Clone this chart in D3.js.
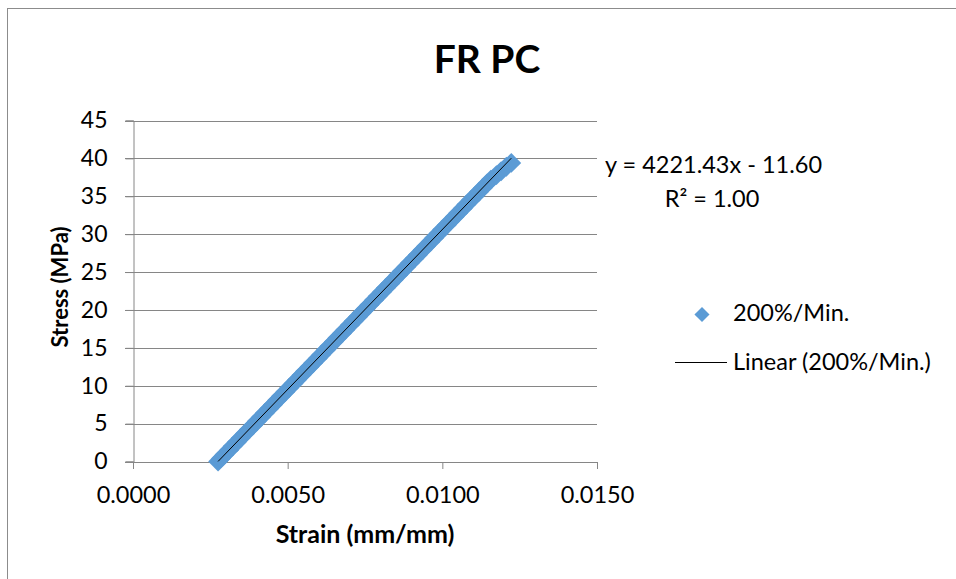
<!DOCTYPE html>
<html>
<head>
<meta charset="utf-8">
<script src="https://cdn.jsdelivr.net/npm/d3@7"></script>
<style>
  html, body { margin: 0; padding: 0; background: #fff; }
  svg { display: block; }
  text { font-family: Lato, "Open Sans", "Liberation Sans", sans-serif; fill: #000; }
</style>
</head>
<body>
<svg id="chart" width="956" height="579"></svg>
<script>
// Measured tensile data: strain (mm/mm) and stress (MPa)
const strain = [
  0.002750, 0.002845, 0.002960, 0.003105, 0.003220, 0.003366, 0.003480, 0.003626,
  0.003742, 0.003887, 0.004003, 0.004148, 0.004262, 0.004408, 0.004523, 0.004668,
  0.004783, 0.004929, 0.005044, 0.005190, 0.005304, 0.005451, 0.005565, 0.005711,
  0.005826, 0.005972, 0.006086, 0.006232, 0.006347, 0.006493, 0.006607, 0.006753,
  0.006868, 0.007014, 0.007128, 0.007274, 0.007389, 0.007535, 0.007649, 0.007796,
  0.007910, 0.008056, 0.008171, 0.008317, 0.008431, 0.008577, 0.008692, 0.008838,
  0.008952, 0.009099, 0.009213, 0.009359, 0.009474, 0.009620, 0.009734, 0.009880,
  0.009995, 0.010141, 0.010255, 0.010401, 0.010516, 0.010662, 0.010776, 0.010923,
  0.011040, 0.011186, 0.011305, 0.011450, 0.011570, 0.011750, 0.011900, 0.012070,
  0.012230
];
const stress = [
  0.0, 0.4, 0.9, 1.5, 2.0, 2.6, 3.1, 3.7,
  4.2, 4.8, 5.3, 5.9, 6.4, 7.0, 7.5, 8.1,
  8.6, 9.2, 9.7, 10.3, 10.8, 11.4, 11.9, 12.5,
  13.0, 13.6, 14.1, 14.7, 15.2, 15.8, 16.3, 16.9,
  17.4, 18.0, 18.5, 19.1, 19.6, 20.2, 20.7, 21.3,
  21.8, 22.4, 22.9, 23.5, 24.0, 24.6, 25.1, 25.7,
  26.2, 26.8, 27.3, 27.9, 28.4, 29.0, 29.5, 30.1,
  30.6, 31.2, 31.7, 32.3, 32.8, 33.4, 33.9, 34.5,
  35.0, 35.6, 36.1, 36.7, 37.2, 37.8, 38.3, 38.9,
  39.4
];

// Linear trendline coefficients (as shown in the equation label)
const slope = 4221.43;
const intercept = -11.60;
const rSquared = 1.00;

const xTicks = [0.0000, 0.0050, 0.0100, 0.0150];
const yTicks = [0, 5, 10, 15, 20, 25, 30, 35, 40, 45];

const title = "FR PC";
const xTitle = "Strain (mm/mm)";
const yTitle = "Stress (MPa)";
const seriesName = "200%/Min.";
const trendName = "Linear (200%/Min.)";

const blue = "#5B9BD5";
const gridColor = "#868686";

const svg = d3.select("#chart");

// Chart area frame
svg.append("rect")
  .attr("x", 7.5).attr("y", 8.5)
  .attr("width", 1000).attr("height", 700)
  .attr("fill", "#fff").attr("stroke", "#8c8c8c").attr("stroke-width", 1);

const plot = { left: 133, right: 597, top: 120.5, bottom: 461.5 };

const x = d3.scaleLinear().domain([0, 0.015]).range([plot.left, plot.right]);
const y = d3.scaleLinear().domain([0, 45]).range([plot.bottom, plot.top]);

// Horizontal gridlines
svg.append("g")
  .selectAll("line")
  .data(yTicks)
  .join("line")
  .attr("x1", plot.left - 8).attr("x2", plot.right)
  .attr("y1", d => Math.round(y(d)) + 0.5).attr("y2", d => Math.round(y(d)) + 0.5)
  .attr("stroke", gridColor).attr("stroke-width", 1);

// Y axis
const yAxis = d3.axisLeft(y).tickValues(yTicks).tickSize(8).tickPadding(18)
  .tickFormat(d3.format("d"));
const gy = svg.append("g").attr("transform", `translate(${plot.left + 0.5},0)`).call(yAxis);
gy.select(".domain").attr("stroke", gridColor);
gy.selectAll(".tick line").attr("stroke", gridColor);
gy.selectAll(".tick text").style("font-size", "23px").attr("fill", "#000");

// X axis
const xAxis = d3.axisBottom(x).tickValues(xTicks).tickSize(7)
  .tickFormat(d3.format(".4f"));
const gx = svg.append("g").attr("transform", `translate(0,${plot.bottom + 0.5})`).call(xAxis);
gx.select(".domain").attr("stroke", gridColor);
gx.selectAll(".tick line").attr("stroke", gridColor);
gx.selectAll(".tick text").style("font-size", "23.5px").attr("fill", "#000")
  .attr("y", 41).attr("dy", 0);

// Data points as diamonds
const data = strain.map((s, i) => ({ x: s, y: stress[i] }));
const diamond = d3.symbol().type(d3.symbolDiamond2).size(250);
svg.append("g")
  .selectAll("path")
  .data(data)
  .join("path")
  .attr("d", diamond)
  .attr("transform", d => `translate(${x(d.x)},${y(d.y)})`)
  .attr("fill", blue);

// Trendline over the data range
const xr = d3.extent(strain);
svg.append("line")
  .attr("x1", x(xr[0])).attr("y1", y(slope * xr[0] + intercept))
  .attr("x2", x(xr[1])).attr("y2", y(slope * xr[1] + intercept))
  .attr("stroke", "#000").attr("stroke-width", 1);

// Title
svg.append("text")
  .attr("x", 487).attr("y", 73)
  .attr("text-anchor", "middle")
  .style("font-size", "39px").style("font-weight", "bold")
  .text(title);

// Axis titles
svg.append("text")
  .attr("x", 365).attr("y", 543)
  .attr("text-anchor", "middle")
  .style("font-size", "25px").style("font-weight", "bold")
  .text(xTitle);

svg.append("text")
  .attr("transform", "translate(68,287) rotate(-90)")
  .attr("text-anchor", "middle")
  .style("font-size", "22px").style("font-weight", "bold")
  .text(yTitle);

// Trendline equation
svg.append("text")
  .attr("x", 713.5).attr("y", 173)
  .attr("text-anchor", "middle")
  .style("font-size", "23.5px")
  .text(`y = ${slope.toFixed(2)}x - ${Math.abs(intercept).toFixed(2)}`);
svg.append("text")
  .attr("x", 712).attr("y", 206.5)
  .attr("text-anchor", "middle")
  .style("font-size", "23.5px")
  .text(`R² = ${rSquared.toFixed(2)}`);

// Legend
const legend = svg.append("g");
legend.append("path")
  .attr("d", d3.symbol().type(d3.symbolDiamond2).size(145))
  .attr("transform", "translate(702,314.5)")
  .attr("fill", blue);
legend.append("text")
  .attr("x", 733).attr("y", 321)
  .style("font-size", "23.5px")
  .text(seriesName);
legend.append("line")
  .attr("x1", 675).attr("x2", 727)
  .attr("y1", 362.5).attr("y2", 362.5)
  .attr("stroke", "#000").attr("stroke-width", 1);
legend.append("text")
  .attr("x", 733).attr("y", 370)
  .style("font-size", "23.5px")
  .text(trendName);
</script>
</body>
</html>
